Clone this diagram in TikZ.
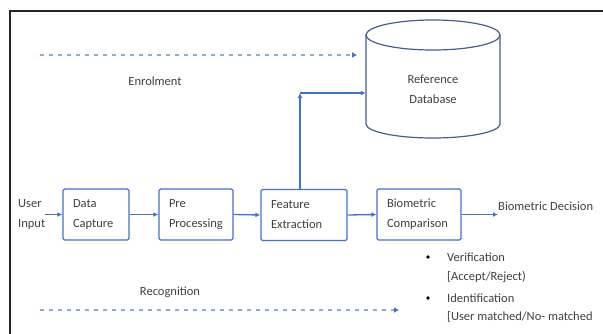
\documentclass[tikz,border=0pt]{standalone}
\usepackage{fontspec}
\setmainfont{Carlito}
\usetikzlibrary{arrows.meta}
\definecolor{obl}{HTML}{4472C4}
\definecolor{dotb}{HTML}{8FAADC}
\definecolor{cylc}{HTML}{4A5C8A}
\definecolor{txt}{HTML}{404040}
\tikzset{
  lbl/.style={font=\fontsize{12.5}{20}\selectfont, text=txt, inner sep=0pt},
  procbox/.style={draw=obl, line width=1.4pt, rounded corners=1.5pt, fill=white,
    font=\fontsize{12.5}{20}\selectfont, text=txt, align=left, inner xsep=10pt,
    inner ysep=0pt, minimum height=51pt},
  arr/.style={draw=obl, line width=1.3pt, -{Latex[length=5pt,width=5pt]}},
  dotarr/.style={draw=dotb, line width=2pt, dash pattern=on 3.5pt off 5.5pt,
    -{Latex[length=5pt,width=6pt,color=obl]}},
  cyl/.style={draw=cylc, line width=1.2pt},
  bul/.style={circle, fill=black, inner sep=0pt, minimum size=3.6pt}
}
\begin{document}
\begin{tikzpicture}[x=1pt,y=-1pt]
\useasboundingbox (0,0) rectangle (603,333);
% frame
\draw[line width=2pt, black!85] (10,340) -- (10,11) -- (610,11);
% cylinder
\draw[cyl] (366,35) -- (366,124) arc[start angle=180,end angle=360,x radius=67pt,y radius=14pt] -- (500,35);
\draw[cyl] (433,35) ellipse [x radius=67pt, y radius=15pt];
\node[minimum width=134pt, minimum height=89pt, inner sep=0pt] (db) at (433,79.5) {};
\node[lbl, align=center] (dbt) at (433,89) {Reference\\Database};
% enrolment
\coordinate (enS) at (40,55);
\coordinate (enE) at (357,55);
\draw[dotarr] (enS) -- (enE);
\node[lbl] (enrol) at (155,81) {Enrolment};
% user input
\node[lbl, align=left, anchor=west] (user) at (18,214) {User\\Input};
% boxes
\node[procbox, text width=46pt] (dc) at (96,214.5) {Data\\Capture};
\node[procbox, text width=54pt] (pp) at (196,214.5) {Pre\\Processing};
\node[procbox, text width=66pt] (fe) at (304,215) {Feature\\Extraction};
\node[procbox, text width=64pt] (bc) at (419,214.5) {Biometric\\Comparison};
\node[lbl, anchor=west] (dec) at (498,206) {Biometric Decision};
% connectors
\draw[arr] (user.east |- dc.west) -- (dc.west);
\draw[arr] (dc.east) -- (pp.west);
\draw[arr] (pp.east) -- (fe.west);
\draw[arr] (fe.east) -- (bc.west);
\draw[arr] (bc.east) -- (dec.west |- bc.east);
\coordinate (up) at (300,93);
\draw[arr] (fe.north -| up) -- (up);
\draw[arr] (up) -- (db.west |- up);
% outcomes
\node[bul] (b1) at (428,257) {};
\node[bul] (b2) at (428,298) {};
\node[lbl, anchor=west] (v1) at (447,257) {Verification};
\node[lbl, anchor=west] (v2) at (447,277) {[Accept/Reject)};
\node[lbl, anchor=west] (i1) at (447,298) {Identification};
\node[lbl, anchor=west] (i2) at (447,317) {[User matched/No- matched};
% recognition
\node[lbl] (rec) at (170,292) {Recognition};
\coordinate (reS) at (40,310);
\coordinate (reE) at (399,310);
\draw[dotarr] (reS) -- (reE);
\end{tikzpicture}
\end{document}
